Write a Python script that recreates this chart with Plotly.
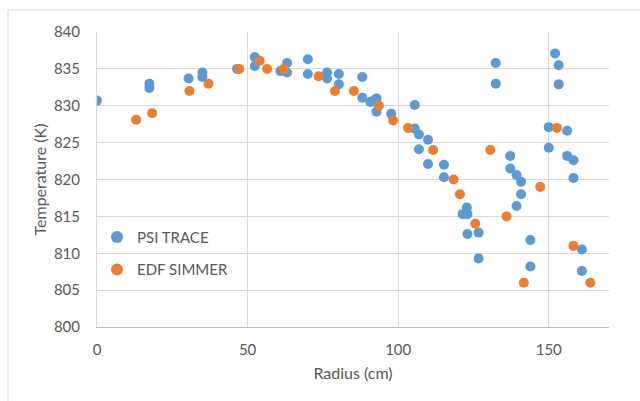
import plotly.graph_objects as go

psi_r = [0.0, 17.4, 17.4, 30.4, 35.0, 35.0, 46.5, 52.4, 52.4, 60.9, 63.1, 63.1,
         70.0, 70.0, 76.4, 76.4, 80.3, 80.3, 88.1, 88.1, 90.8, 91.4, 92.8, 92.8,
         97.7, 105.5, 105.5, 106.9, 106.9, 109.9, 109.9, 115.2, 115.2, 122.8,
         121.4, 123.0, 123.0, 126.7, 126.7, 132.4, 132.4, 137.2, 137.2, 139.3,
         140.8, 140.8, 139.3, 143.9, 143.9, 150.0, 150.0, 152.1, 153.3, 153.3,
         156.1, 156.1, 158.2, 158.2, 161.0, 161.0]
psi_t = [830.7, 833.0, 832.4, 833.7, 834.5, 833.9, 835.0, 836.6, 835.4, 834.7, 835.8, 834.5,
         836.3, 834.3, 834.5, 833.7, 834.3, 832.9, 833.9, 831.1, 830.5, 830.6, 831.0, 829.2,
         828.9, 830.1, 826.9, 826.1, 824.1, 825.4, 822.1, 822.0, 820.3, 816.2,
         815.3, 815.3, 812.6, 812.8, 809.3, 835.8, 833.0, 823.2, 821.5, 820.6,
         819.7, 818.0, 816.4, 811.8, 808.2, 827.1, 824.3, 837.1, 835.5, 832.9,
         826.6, 823.2, 822.6, 820.2, 810.5, 807.6]

edf_r = [13.0, 18.3, 30.7, 37.0, 47.2, 54.0, 56.5, 62.0, 73.6, 79.0, 85.3, 93.6,
         98.3, 103.3, 111.6, 118.4, 120.5, 125.6, 130.6, 136.0, 141.7, 147.2,
         152.7, 158.2, 163.8]
edf_t = [828.1, 829.0, 832.0, 833.0, 835.0, 836.1, 835.0, 835.0, 834.0, 832.0, 832.0, 830.0,
         828.0, 827.0, 824.0, 820.0, 818.0, 814.0, 824.0, 815.0, 806.0, 819.0,
         827.0, 811.0, 806.0]

x_ticks = [0, 50, 100, 150]
y_ticks = [800, 805, 810, 815, 820, 825, 830, 835, 840]

fig = go.Figure()
fig.add_trace(go.Scatter(x=psi_r, y=psi_t, mode="markers", name="PSI TRACE", legendgroup="a",
                         marker=dict(color="#5B9BD5", size=10, line=dict(width=0))))
fig.add_trace(go.Scatter(x=edf_r, y=edf_t, mode="markers", name="EDF SIMMER", legendgroup="b",
                         marker=dict(color="#ED7D31", size=10, line=dict(width=0))))

font = "Lato, 'Open Sans', sans-serif"
fig.update_layout(
    width=640, height=401,
    margin=dict(l=97, r=31, t=32, b=74),
    paper_bgcolor="white", plot_bgcolor="white",
    font=dict(family=font, size=14, color="#595959"),
    showlegend=True,
    legend=dict(x=0.0, y=0.36, xanchor="left", yanchor="top",
                bgcolor="rgba(0,0,0,0)", font=dict(size=15, color="#595959"),
                itemsizing="constant", tracegroupgap=10, itemwidth=30),
    xaxis=dict(range=[0, 170], tickvals=x_ticks, showgrid=True, gridcolor="#d9d9d9",
               zeroline=False, showline=True, linecolor="#bfbfbf", ticks="",
               ticklabelstandoff=9, tickfont=dict(size=15),
               title=dict(text="Radius (cm)", font=dict(size=16, color="#595959"), standoff=10)),
    yaxis=dict(range=[800, 840], tickvals=y_ticks, showgrid=True, gridcolor="#d9d9d9",
               zeroline=False, showline=True, linecolor="#d9d9d9", ticks="",
               ticklabelstandoff=13, tickfont=dict(size=15),
               title=dict(text="Temperature (K)", font=dict(size=16, color="#595959"), standoff=3)),
    shapes=[
        dict(type="line", xref="paper", yref="paper", x0=-0.1738, x1=1.2, y0=1.0746, y1=1.0746,
             line=dict(color="#d9d9d9", width=1)),
        dict(type="line", xref="paper", yref="paper", x0=-0.1738, x1=-0.1738, y0=-0.5, y1=1.0746,
             line=dict(color="#d9d9d9", width=1)),
    ],
)

fig.write_html("out.html")
